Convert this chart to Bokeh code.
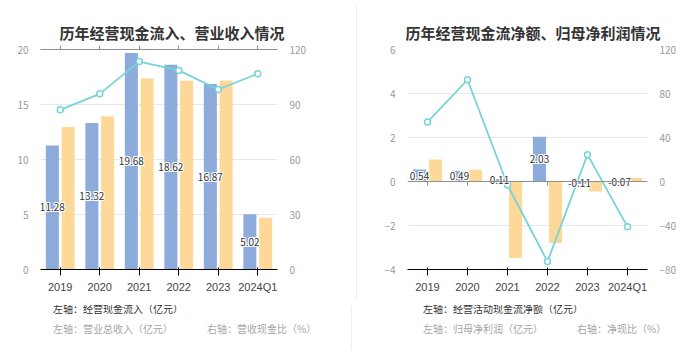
from bokeh.plotting import figure
from bokeh.models import (ColumnDataSource, LinearAxis, Range1d, Legend, LegendItem,
                          Title, Div, FactorRange, Span, CategoricalAxis)
from bokeh.transform import dodge
from bokeh.layouts import row, column
from bokeh.core.properties import value
from bokeh.embed import file_html
from bokeh.resources import INLINE

# ---------------- data ----------------
categories = ["2019", "2020", "2021", "2022", "2023", "2024Q1"]

# left chart
cash_inflow = [11.28, 13.32, 19.68, 18.62, 16.87, 5.02]      # 经营现金流入（亿元）
revenue = [12.95, 13.90, 17.36, 17.15, 17.18, 4.70]          # 营业总收入（亿元）
cash_revenue_ratio = [87.1, 95.8, 113.4, 108.6, 98.2, 106.8]  # 营收现金比（%）

# right chart
net_cash_flow = [0.54, 0.49, 0.11, 2.03, -0.11, -0.07]       # 经营活动现金流净额（亿元）
net_profit = [1.00, 0.53, -3.48, -2.79, -0.45, 0.17]         # 归母净利润（亿元）
net_cash_ratio = [54.0, 92.5, -3.2, -72.8, 24.4, -41.2]      # 净现比（%）

left_title = "历年经营现金流入、营业收入情况"
right_title = "历年经营现金流净额、归母净利润情况"
left_legend = ["左轴：经营现金流入（亿元）", "左轴：营业总收入（亿元）", "右轴：营收现金比（%）"]
right_legend = ["左轴：经营活动现金流净额（亿元）", "左轴：归母净利润（亿元）", "右轴：净现比（%）"]

# ---------------- style ----------------
FONT = "Noto Sans CJK SC"
BLUE = "#8dacdb"
ORANGE = "#fed898"
TEAL = "#76d3d6"
ORANGE_L = "#feeacb"
TEAL_L = "#b4e7e9"
GRID = "#e3e8f2"
LABEL = "#9a9a9a"
AXIS = "#8f8f8f"
DIVIDER = "#eeeeee"
FRAME_H = 220
TICK_PX = 4

HALO = [(-1, 0), (1, 0), (0, -1), (0, 1), (-1, -1), (1, 1), (-1, 1), (1, -1)]


def no_align(fig):
    try:
        fig.frame_align = False
    except Exception:
        pass


def style_axis(ax, standoff):
    ax.axis_line_color = None
    ax.major_tick_line_color = None
    ax.minor_tick_line_color = None
    ax.major_label_text_color = LABEL
    ax.major_label_text_font = FONT
    ax.major_label_text_font_size = "10px"
    ax.major_label_standoff = standoff


def make_chart(title, title_offset, bars1, bars2, ratio, yl, yr, yticks_l, yticks_r,
               width, mleft, mright, zero_axis):
    src = ColumnDataSource(dict(
        cat=categories, b1=bars1, b2=bars2, r=ratio,
        mid=[v / 2 for v in bars1], lab=["%.2f" % v for v in bars1]))
    p = figure(x_range=FactorRange(*categories), y_range=Range1d(*yl),
               width=width, height=295, output_backend="svg", toolbar_location=None,
               min_border_left=mleft, min_border_right=mright,
               min_border_top=49, min_border_bottom=26)
    no_align(p)
    p.extra_y_ranges = {"r": Range1d(*yr)}
    p.outline_line_color = None
    p.border_fill_color = "white"

    # invisible spacer panel between the frame and the title
    sp = CategoricalAxis()
    sp.axis_line_color = None
    sp.major_tick_line_color = None
    sp.minor_tick_line_color = None
    sp.major_tick_out = 0
    sp.major_tick_in = 0
    sp.major_label_text_alpha = 0
    sp.major_label_text_color = "white"
    sp.major_label_text_font_size = "10px"
    sp.major_label_standoff = 14
    p.add_layout(sp, "above")
    p.add_layout(Title(text=title, align="left", offset=title_offset, text_font=FONT,
                       text_font_size="15px", text_font_style="bold",
                       text_color="#333333", vertical_align="top", standoff=2), "above")

    p.xgrid.grid_line_color = None
    p.ygrid.grid_line_color = GRID
    p.ygrid.ticker = yticks_l

    ya = p.yaxis[0]
    ya.ticker = yticks_l
    style_axis(ya, 6)

    ra = LinearAxis(y_range_name="r", ticker=yticks_r)
    style_axis(ra, 6)
    p.add_layout(ra, "right")

    xa = p.xaxis[0]
    style_axis(xa, -3)
    xa.major_tick_out = TICK_PX
    xa.major_tick_in = 0
    if zero_axis:
        p.add_layout(Span(location=0, dimension="width", line_color=AXIS, line_width=1))
        tick = (yl[1] - yl[0]) / FRAME_H * TICK_PX
        p.segment(x0="cat", x1="cat", y0=0, y1=-tick, source=src, line_color=AXIS,
                  line_width=1)
    else:
        xa.axis_line_color = AXIS
        xa.major_tick_line_color = AXIS

    p.vbar(x=dodge("cat", -0.2, range=p.x_range), top="b1", bottom=0, width=0.33,
           source=src, fill_color=BLUE, line_color=None)
    p.vbar(x=dodge("cat", 0.2, range=p.x_range), top="b2", bottom=0, width=0.33,
           source=src, fill_color=ORANGE, line_color=None)

    p.line(x="cat", y="r", source=src, y_range_name="r", line_color=TEAL, line_width=1.8)
    p.scatter(x="cat", y="r", source=src, y_range_name="r", marker="circle", size=6,
              fill_color="white", line_color=TEAL, line_width=1.5)

    for dx, dy in HALO:
        p.text(x=dodge("cat", -0.2, range=p.x_range), y="mid", text="lab", source=src,
               text_align="center", text_baseline="middle", x_offset=dx, y_offset=dy,
               text_font=value(FONT), text_font_size="10px", text_color="white")
    p.text(x=dodge("cat", -0.2, range=p.x_range), y="mid", text="lab", source=src,
           text_align="center", text_baseline="middle",
           text_font=value(FONT), text_font_size="10px", text_color="#333333")
    return p


# one full-width legend strip below both charts (pixel-like ranges)
LEG_W, LEG_H = 700, 45
lf = figure(width=LEG_W, height=LEG_H, output_backend="svg", toolbar_location=None,
            x_range=Range1d(0, LEG_W), y_range=Range1d(0, LEG_H),
            x_axis_location=None, y_axis_location=None,
            min_border_left=0, min_border_right=0, min_border_top=0, min_border_bottom=0)
no_align(lf)
lf.outline_line_color = None
lf.grid.grid_line_color = None
lf.add_layout(Span(location=351, dimension="height", line_color=DIVIDER, line_width=1))

empty = ColumnDataSource(dict(x=[], y=[]))
d1 = lf.vbar(x="x", top="y", width=0.3, source=empty, fill_color=BLUE, line_color=None)
d2 = lf.vbar(x="x", top="y", width=0.3, source=empty, fill_color=ORANGE_L, line_color=None)
d3l = lf.line(x="x", y="y", source=empty, line_color=TEAL_L, line_width=1.8)
d3s = lf.scatter(x="x", y="y", source=empty, marker="circle", size=9,
                 fill_color="white", line_color=TEAL_L, line_width=1.5)

common = dict(orientation="horizontal", padding=0, margin=0, spacing=9,
              border_line_color=None, background_fill_alpha=0,
              glyph_width=20, glyph_height=12, label_height=12, label_standoff=5,
              label_text_font=FONT, label_text_font_size="10px",
              label_text_baseline="middle")
for texts, x in ((left_legend, 28), (right_legend, 398)):
    lf.add_layout(Legend(items=[LegendItem(label=texts[0], renderers=[d1])],
                         location=(x, 34), label_text_color="#333333", **common))
    lf.add_layout(Legend(items=[LegendItem(label=texts[1], renderers=[d2]),
                                LegendItem(label=texts[2], renderers=[d3l, d3s])],
                         location=(x, 14), label_text_color="#a6a6a6", **common))

p1 = make_chart(left_title, 19, cash_inflow, revenue, cash_revenue_ratio,
                (0, 20), (0, 120), [0, 5, 10, 15, 20], [0, 30, 60, 90, 120],
                351, 40, 74, False)
p2 = make_chart(right_title, -2, net_cash_flow, net_profit, net_cash_ratio,
                (-4, 6), (-80, 120), [-4, -2, 0, 2, 4, 6], [-80, -40, 0, 40, 80, 120],
                348, 45, 63, True)

divider = Div(text="", width=1, height=295, styles={"background-color": DIVIDER})
layout = column(row(p1, divider, p2, spacing=0), lf, spacing=0)

open("out.html", "w").write(file_html(layout, INLINE))
